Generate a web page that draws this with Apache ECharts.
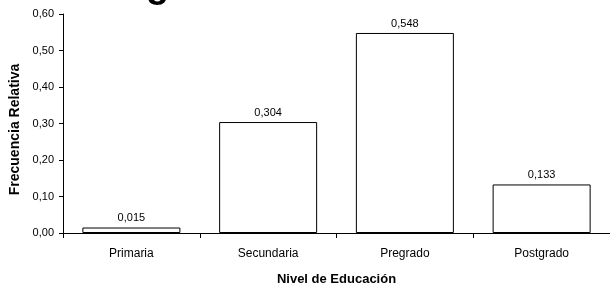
<!DOCTYPE html>
<html lang="es">
<head>
  <meta charset="UTF-8">
  <title>Nivel de Educación</title>
  <script src="https://cdn.jsdelivr.net/npm/echarts@6/dist/echarts.min.js"></script>
  <style>
    html, body { margin: 0; padding: 0; background: #fff; }
    #main { width: 610px; height: 289px; }
  </style>
</head>
<body>
  <div id="main"></div>
  <script type="text/javascript">
    var categories = ['Primaria', 'Secundaria', 'Pregrado', 'Postgrado']
    var frecuencias = [0.015, 0.304, 0.548, 0.133]

    function coma(v, d) {
      return v.toFixed(d).replace('.', ',')
    }

    var myChart = echarts.init(document.getElementById('main'))

    myChart.setOption({
      backgroundColor: '#fff',
      animation: false,
      textStyle: { fontFamily: 'Liberation Sans', color: '#000' },
      // parte inferior de un titulo recortado
      graphic: [{
        type: 'text',
        x: 146,
        y: -32,
        style: { text: 'g', font: 'bold 38px Liberation Sans', fill: '#000' }
      }],
      grid: { left: 63, right: 0, top: 14, bottom: 56, outerBoundsMode: 'none' },
      xAxis: {
        type: 'category',
        data: categories,
        name: 'Nivel de Educación',
        nameLocation: 'middle',
        nameGap: 40,
        nameTextStyle: { fontSize: 13, fontWeight: 'bold', color: '#000' },
        axisLine: { lineStyle: { color: '#000', width: 1 } },
        axisTick: { show: true, length: 5, lineStyle: { color: '#000' } },
        axisLabel: { margin: 15, fontSize: 12, color: '#000' }
      },
      yAxis: {
        type: 'value',
        min: 0,
        max: 0.6,
        interval: 0.1,
        name: 'Frecuencia Relativa',
        nameLocation: 'middle',
        nameGap: 37,
        nameTextStyle: { fontSize: 14, fontWeight: 'bold', color: '#000', padding: [0, 12, 0, 0] },
        splitLine: { show: false },
        axisLine: { show: true, lineStyle: { color: '#000', width: 1 } },
        axisTick: { show: true, length: 4, lineStyle: { color: '#000' } },
        axisLabel: {
          margin: 9,
          fontSize: 11,
          color: '#000',
          formatter: function (v) { return coma(v, 2) }
        }
      },
      series: [{
        type: 'bar',
        data: frecuencias,
        barWidth: 98,
        itemStyle: { color: '#fff', borderColor: '#000', borderWidth: 1 },
        label: {
          show: true,
          position: 'top',
          distance: 4,
          fontSize: 11,
          color: '#000',
          formatter: function (p) { return coma(p.value, 3) }
        }
      }]
    })
  </script>
</body>
</html>
